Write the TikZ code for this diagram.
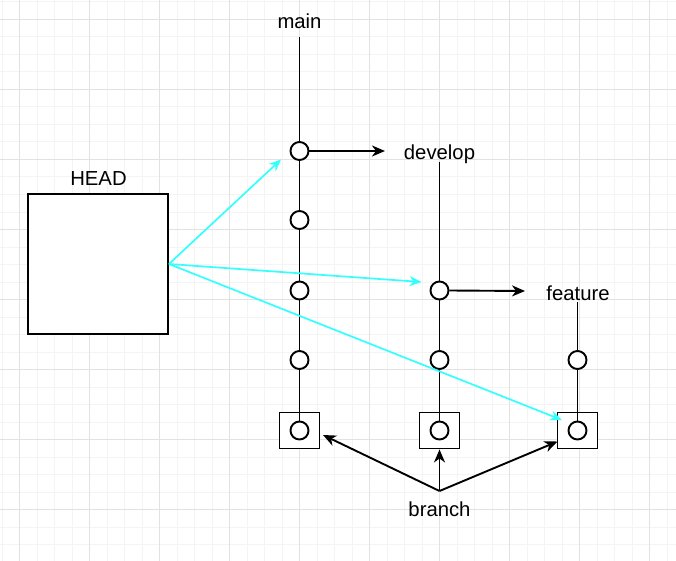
\documentclass[tikz,border=0pt]{standalone}
\usepackage{fontspec}
\setmainfont{Liberation Sans}
\usetikzlibrary{arrows.meta}
\definecolor{gridminor}{HTML}{F4F4F4}
\definecolor{gridmajor}{HTML}{E2E2E2}
\definecolor{headcyan}{HTML}{33FFFF}
\tikzset{
  lbl/.style={font=\fontsize{20.3}{24}\selectfont, anchor=base, inner sep=0pt},
  commit/.style={circle, draw=black, line width=1.9pt, fill=white, minimum size=18pt, inner sep=0pt},
  tipbox/.style={rectangle, draw=black, line width=1.9pt, fill=white, minimum width=40pt, minimum height=36pt, inner sep=0pt},
  headbox/.style={rectangle, draw=black, line width=1.9pt, fill=white, minimum width=140pt, minimum height=140pt, inner sep=0pt},
  branchline/.style={draw=black, line width=1.9pt},
  refarrow/.style={draw=black, line width=1.9pt, -{Stealth[length=13pt, width=11pt, inset=4pt]}},
  headarrow/.style={draw=headcyan, line width=1.7pt, -{Stealth[length=12pt, width=10pt, inset=4pt]}},
  minorgrid/.style={draw=gridminor, line width=0.6pt},
  majorgrid/.style={draw=gridmajor, line width=0.9pt}
}
\begin{document}
\begin{tikzpicture}[x=1pt, y=-1pt]
\useasboundingbox (0,0) rectangle (676,561);
\fill[white] (0,0) rectangle (676,561);
% grid
\foreach \i in {0,...,38} {
  \draw[minorgrid] ({2+17.5*\i},0) -- ({2+17.5*\i},561);
}
\foreach \i in {0,...,32} {
  \draw[minorgrid] (0,{1.8+17.5*\i}) -- (676,{1.8+17.5*\i});
}
\foreach \i in {0,...,9} {
  \draw[majorgrid] ({19.5+70*\i},0) -- ({19.5+70*\i},561);
}
\foreach \i in {0,...,7} {
  \draw[majorgrid] (0,{19.3+70*\i}) -- (676,{19.3+70*\i});
}

% labels
\node[lbl] (mainlbl) at (299.5,28.3) {main};
\node[lbl] (devlbl) at (439.5,160) {develop};
\node[lbl] (featlbl) at (578,300) {feature};
\node[lbl] (headlbl) at (98.5,185.7) {HEAD};
\node[lbl] (branchlbl) at (439.5,516.7) {branch};

% coordinates
\coordinate (maintop) at (299.5,37.3);
\coordinate (devtop) at (439.5,162);
\coordinate (feattop) at (577.5,302);
\coordinate (mainref) at (385,151);
\coordinate (devref) at (525,291);
\coordinate (bo) at (439.5,491);

% branch squares
\node[tipbox] (msq) at (299.5,430.5) {};
\node[tipbox] (dsq) at (439.5,430.5) {};
\node[tipbox] (fsq) at (577.5,430.5) {};

% branch lines
\draw[branchline] (maintop) -- (299.5,430.5);
\draw[branchline] (devtop) -- (439.5,430.5);
\draw[branchline] (feattop) -- (577.5,430.5);

% commits
\node[commit] (m1) at (299.5,151) {};
\node[commit] (m2) at (299.5,220) {};
\node[commit] (m3) at (299.5,290.5) {};
\node[commit] (m4) at (299.5,360) {};
\node[commit] (mc) at (299.5,430.5) {};
\node[commit] (d1) at (439.5,290.5) {};
\node[commit] (d2) at (439.5,360) {};
\node[commit] (dc) at (439.5,430.5) {};
\node[commit] (f1) at (577.5,360) {};
\node[commit] (fc) at (577.5,430.5) {};

% ref arrows
\draw[refarrow] (m1.east) -- (mainref);
\draw[refarrow] (d1.east) -- (devref);

% HEAD
\node[headbox] (head) at (98,264) {};
\draw[headarrow] (head.east) -- (281,159.5);
\draw[headarrow] (head.east) -- (421.5,282);
\draw[headarrow] (head.east) -- (562,420);

% branch arrows
\draw[refarrow] (bo) -- (323,435);
\draw[refarrow] (bo) -- (dsq.south);
\draw[refarrow] (bo) -- (557.5,441.5);
\end{tikzpicture}
\end{document}
